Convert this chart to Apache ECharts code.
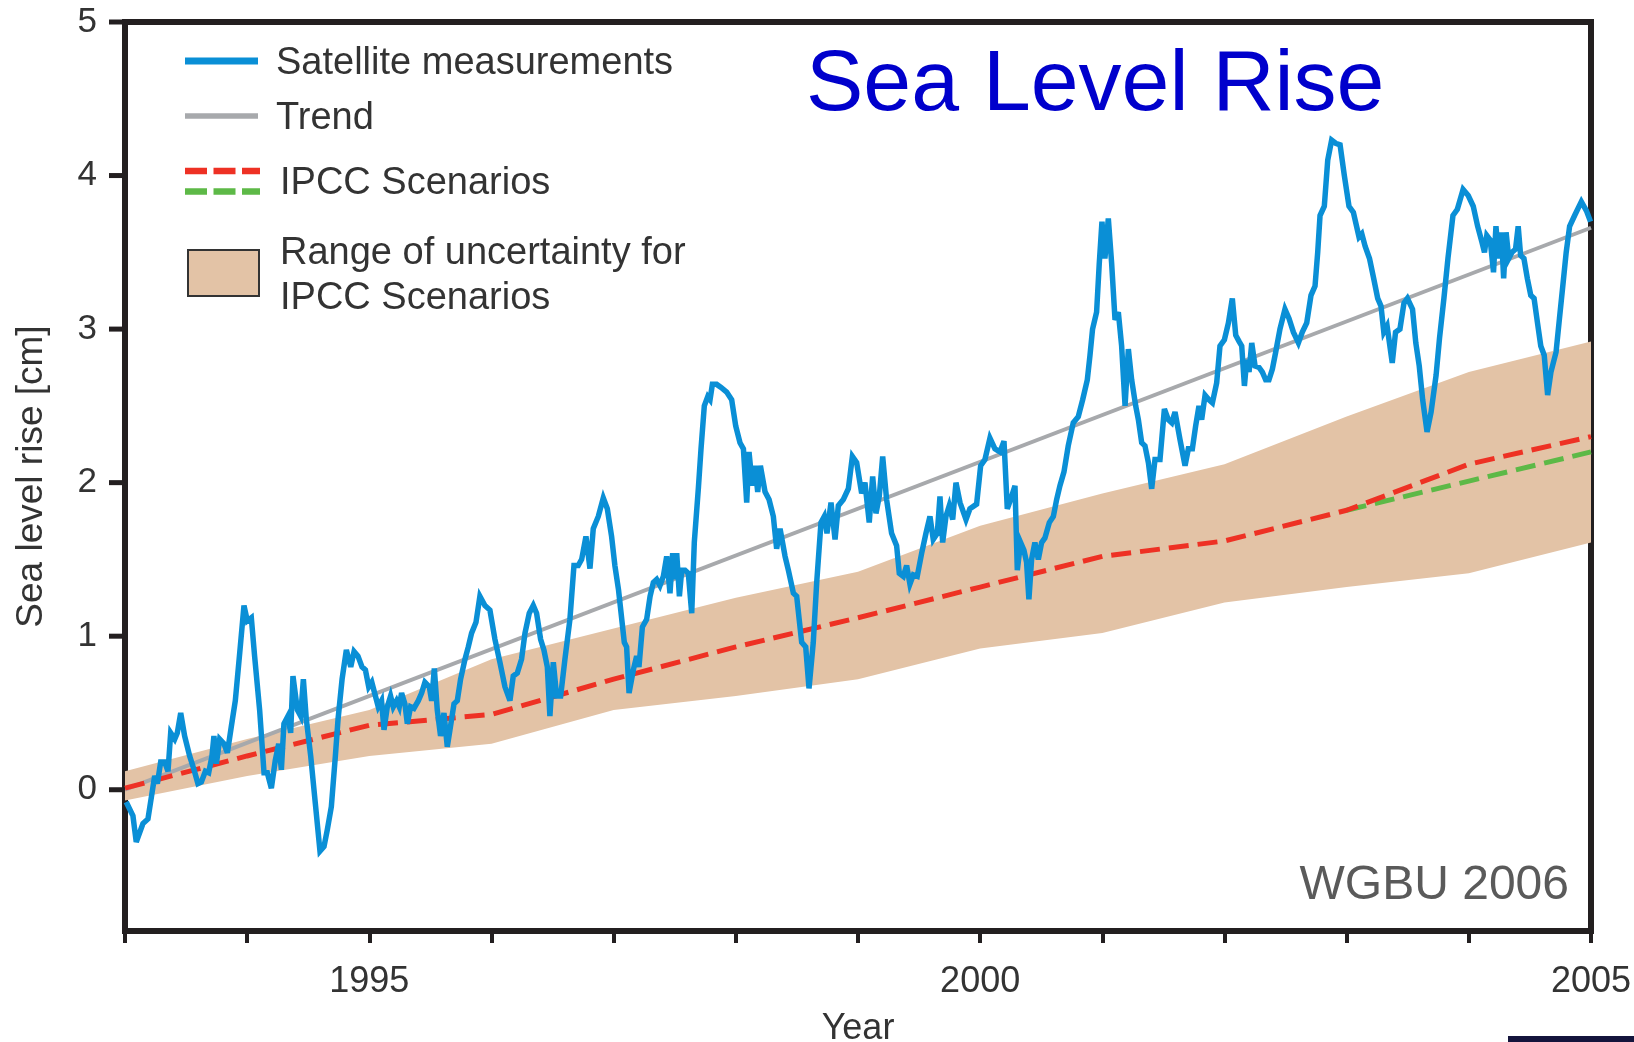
<!DOCTYPE html>
<html>
<head>
<meta charset="utf-8">
<title>Sea Level Rise</title>
<script src="https://cdn.jsdelivr.net/npm/echarts@6/dist/echarts.min.js"></script>
<style>
  html, body { margin: 0; padding: 0; background: #ffffff; }
  #chart { width: 1634px; height: 1042px; }
</style>
</head>
<body>
<div id="chart"></div>
<script>
// Satellite altimetry record (decimal year, cm)
const satYears = [
  1993.01, 1993.065, 1993.092, 1993.147, 1993.188, 1993.243, 1993.265, 1993.292, 1993.325, 1993.352,
  1993.374, 1993.407, 1993.428, 1993.456, 1993.488, 1993.529, 1993.565, 1993.597, 1993.625, 1993.658,
  1993.685, 1993.712, 1993.728, 1993.748, 1993.775, 1993.810, 1993.838, 1993.870, 1993.903, 1993.939,
  1993.974, 1994.001, 1994.034, 1994.061, 1994.102, 1994.138, 1994.165, 1994.198, 1994.230, 1994.258,
  1994.280, 1994.301, 1994.334, 1994.356, 1994.375, 1994.411, 1994.438, 1994.460, 1994.484, 1994.520,
  1994.558, 1994.596, 1994.629, 1994.656, 1994.689, 1994.722, 1994.744, 1994.777, 1994.812, 1994.848,
  1994.875, 1994.907, 1994.940, 1994.968, 1994.995,
  1995.020, 1995.073, 1995.100, 1995.120, 1995.147, 1995.174, 1995.196, 1995.223, 1995.245, 1995.264,
  1995.291, 1995.311, 1995.338, 1995.365, 1995.401, 1995.428, 1995.455, 1995.491, 1995.510, 1995.532,
  1995.556, 1995.583, 1995.611, 1995.638, 1995.660, 1995.693, 1995.720, 1995.747, 1995.783, 1995.810,
  1995.837, 1995.873, 1995.905, 1995.946, 1995.987, 1996.028, 1996.069, 1996.110, 1996.151, 1996.178,
  1996.211, 1996.246, 1996.274, 1996.309, 1996.342, 1996.369, 1996.402, 1996.429, 1996.457, 1996.478,
  1996.506, 1996.533, 1996.566, 1996.601, 1996.642, 1996.675, 1996.710, 1996.738, 1996.773, 1996.806,
  1996.833, 1996.874, 1996.915, 1996.948, 1996.983,
  1997.010, 1997.040, 1997.087, 1997.106, 1997.126, 1997.161, 1997.188, 1997.207, 1997.235, 1997.270,
  1997.298, 1997.325, 1997.352, 1997.379, 1997.407, 1997.434, 1997.461, 1997.483, 1997.502, 1997.516,
  1997.538, 1997.557, 1997.584, 1997.611, 1997.639, 1997.660, 1997.693, 1997.715, 1997.742, 1997.770,
  1997.789, 1997.808, 1997.843, 1997.879, 1997.925, 1997.966, 1997.999, 1998.034, 1998.062, 1998.089,
  1998.108, 1998.135, 1998.157, 1998.179, 1998.201, 1998.239, 1998.272, 1998.307, 1998.334, 1998.362,
  1998.403, 1998.430, 1998.471, 1998.498, 1998.539, 1998.572, 1998.599, 1998.634, 1998.662, 1998.697,
  1998.724, 1998.746, 1998.779, 1998.812, 1998.839, 1998.880, 1998.921, 1998.954, 1998.989,
  1999.030, 1999.057, 1999.092, 1999.120, 1999.147, 1999.174, 1999.202, 1999.234, 1999.275, 1999.316,
  1999.338, 1999.371, 1999.398, 1999.425, 1999.453, 1999.485, 1999.521, 1999.556, 1999.589, 1999.616,
  1999.649, 1999.671, 1999.693, 1999.720, 1999.747, 1999.775, 1999.802, 1999.835, 1999.884, 1999.916,
  1999.971, 2000.004, 2000.039, 2000.080, 2000.121, 2000.162, 2000.195, 2000.222, 2000.249, 2000.285,
  2000.304, 2000.331, 2000.358, 2000.380, 2000.399, 2000.421, 2000.448, 2000.476, 2000.503, 2000.530,
  2000.566, 2000.599, 2000.626, 2000.653, 2000.686, 2000.721, 2000.762, 2000.803, 2000.839, 2000.877,
  2000.899, 2000.920, 2000.953, 2000.975, 2000.997, 2001.021, 2001.049, 2001.076,
  2001.104, 2001.131, 2001.158, 2001.186, 2001.213, 2001.240, 2001.273, 2001.295, 2001.322, 2001.349,
  2001.377, 2001.404, 2001.431, 2001.472, 2001.508, 2001.540, 2001.568, 2001.595, 2001.636, 2001.677,
  2001.704, 2001.737, 2001.764, 2001.791, 2001.813, 2001.841, 2001.873, 2001.901, 2001.936, 2001.963,
  2001.999, 2002.032, 2002.064, 2002.092, 2002.119, 2002.141, 2002.163, 2002.182, 2002.201, 2002.223,
  2002.250, 2002.283, 2002.310, 2002.337, 2002.364, 2002.392, 2002.419, 2002.454, 2002.495, 2002.528,
  2002.564, 2002.605, 2002.637, 2002.673, 2002.708, 2002.741, 2002.763, 2002.782, 2002.817, 2002.845,
  2002.877, 2002.910, 2002.946, 2002.981, 2003.019, 2003.055, 2003.101,
  2003.124, 2003.151, 2003.187, 2003.221, 2003.254, 2003.281, 2003.304, 2003.331, 2003.373, 2003.400,
  2003.436, 2003.469, 2003.497, 2003.539, 2003.566, 2003.594, 2003.622, 2003.658, 2003.691, 2003.732,
  2003.760, 2003.796, 2003.829, 2003.870, 2003.906, 2003.953, 2003.995, 2004.036, 2004.072, 2004.106,
  2004.128, 2004.147, 2004.175, 2004.202, 2004.222, 2004.244, 2004.266, 2004.285, 2004.305, 2004.327,
  2004.354, 2004.382, 2004.404, 2004.424, 2004.451, 2004.479, 2004.507, 2004.534, 2004.562, 2004.589,
  2004.617, 2004.645, 2004.672, 2004.714, 2004.742, 2004.769, 2004.797, 2004.825, 2004.866, 2004.921,
  2004.963, 2004.996
];
const satValues = [
  -0.08, -0.17, -0.34, -0.22, -0.19, 0.09, 0.04, 0.18, 0.18, 0.12,
  0.37, 0.33, 0.37, 0.50, 0.35, 0.22, 0.13, 0.04, 0.05, 0.12,
  0.11, 0.22, 0.35, 0.17, 0.33, 0.30, 0.24, 0.41, 0.58, 0.89,
  1.20, 1.10, 1.12, 0.87, 0.52, 0.11, 0.11, 0.01, 0.19, 0.30,
  0.13, 0.43, 0.48, 0.37, 0.74, 0.52, 0.48, 0.72, 0.46, 0.22,
  -0.09, -0.40, -0.37, -0.26, -0.11, 0.22, 0.46, 0.72, 0.91, 0.80,
  0.90, 0.87, 0.80, 0.78, 0.67,
  0.70, 0.54, 0.58, 0.39, 0.54, 0.61, 0.54, 0.58, 0.54, 0.63,
  0.56, 0.43, 0.54, 0.53, 0.58, 0.63, 0.70, 0.67, 0.58, 0.79,
  0.52, 0.35, 0.50, 0.28, 0.39, 0.56, 0.58, 0.72, 0.85, 0.93,
  1.02, 1.09, 1.26, 1.20, 1.17, 0.98, 0.83, 0.67, 0.58, 0.74,
  0.76, 0.85, 1.02, 1.15, 1.20, 1.15, 0.98, 0.91, 0.80, 0.48,
  0.83, 0.61, 0.61, 0.85, 1.11, 1.46, 1.46, 1.50, 1.65, 1.44,
  1.70, 1.78, 1.90, 1.83, 1.65,
  1.46, 1.30, 0.96, 0.93, 0.63, 0.78, 0.87, 0.80, 1.06, 1.11,
  1.26, 1.35, 1.37, 1.33, 1.39, 1.52, 1.28, 1.54, 1.37, 1.54,
  1.26, 1.43, 1.43, 1.41, 1.15, 1.61, 1.96, 2.22, 2.50, 2.56,
  2.54, 2.64, 2.64, 2.62, 2.59, 2.54, 2.37, 2.26, 2.22, 1.87,
  2.20, 1.98, 2.11, 1.94, 2.11, 1.94, 1.89, 1.78, 1.57, 1.70,
  1.52, 1.43, 1.28, 1.26, 0.96, 0.93, 0.66, 0.96, 1.35, 1.74,
  1.78, 1.67, 1.87, 1.63, 1.85, 1.89, 1.96, 2.17, 2.13,
  1.93, 2.00, 1.74, 2.04, 1.80, 1.91, 2.17, 1.89, 1.67, 1.59,
  1.41, 1.39, 1.46, 1.34, 1.40, 1.39, 1.54, 1.67, 1.78, 1.63,
  1.67, 1.91, 1.61, 1.78, 1.85, 1.76, 2.00, 1.87, 1.76, 1.83,
  1.86, 2.11, 2.15, 2.29, 2.22, 2.20, 2.27, 1.83, 1.89, 1.98,
  1.43, 1.61, 1.56, 1.48, 1.24, 1.50, 1.61, 1.50, 1.61, 1.64,
  1.74, 1.78, 1.89, 1.98, 2.07, 2.24, 2.39, 2.43, 2.54, 2.67,
  2.83, 3.00, 3.11, 3.43, 3.70, 3.46, 3.72, 3.43,
  3.06, 3.11, 2.89, 2.50, 2.87, 2.67, 2.50, 2.41, 2.26, 2.24,
  2.13, 1.96, 2.15, 2.15, 2.48, 2.41, 2.39, 2.46, 2.28, 2.11,
  2.22, 2.22, 2.37, 2.50, 2.41, 2.57, 2.54, 2.52, 2.65, 2.89,
  2.93, 3.04, 3.20, 2.96, 2.92, 2.89, 2.63, 2.80, 2.72, 2.91,
  2.76, 2.75, 2.72, 2.67, 2.67, 2.74, 2.85, 3.00, 3.13, 3.07,
  2.98, 2.91, 2.98, 3.04, 3.22, 3.28, 3.50, 3.74, 3.80, 4.10,
  4.23, 4.21, 4.20, 4.00, 3.80, 3.76, 3.60,
  3.62, 3.54, 3.46, 3.33, 3.20, 3.15, 2.98, 3.02, 2.78, 2.98,
  3.00, 3.17, 3.20, 3.13, 2.91, 2.76, 2.54, 2.33, 2.46, 2.70,
  2.94, 3.20, 3.46, 3.74, 3.78, 3.91, 3.87, 3.80, 3.67, 3.57,
  3.50, 3.61, 3.58, 3.37, 3.67, 3.46, 3.63, 3.33, 3.63, 3.46,
  3.50, 3.52, 3.67, 3.48, 3.46, 3.33, 3.22, 3.20, 3.04, 2.89,
  2.83, 2.57, 2.72, 2.85, 3.07, 3.28, 3.50, 3.67, 3.74, 3.83,
  3.77, 3.70
];

// Linear trend of the satellite record
const trendYears = [1993, 2005];
const trendValues = [0.0, 3.66];

// IPCC scenario projections
const scenarioYears = [1993, 1994, 1995, 1996, 1997, 1998, 1999, 2000, 2001, 2002, 2003, 2004, 2005];
const redScenario = [0.01, 0.22, 0.42, 0.49, 0.72, 0.93, 1.12, 1.32, 1.52, 1.62, 1.82, 2.12, 2.30];
const greenYears = [2003, 2004, 2005];
const greenScenario = [1.82, 2.01, 2.20];

// Uncertainty range of the IPCC scenarios
const bandYears = [1993, 1994, 1995, 1996, 1997, 1998, 1999, 2000, 2001, 2002, 2003, 2004, 2005];
const bandLow = [-0.07, 0.09, 0.22, 0.30, 0.52, 0.61, 0.72, 0.92, 1.02, 1.22, 1.32, 1.41, 1.61];
const bandHigh = [0.12, 0.33, 0.52, 0.85, 1.05, 1.25, 1.42, 1.72, 1.93, 2.12, 2.43, 2.72, 2.92];

// Axis labels
const yearLabels = [1995, 2000, 2005];
const levelTicks = [0, 1, 2, 3, 4, 5];

const FONT = '"Liberation Sans", Arial, Helvetica, sans-serif';
const INK = '#231f20';
const TEXT = '#333333';
const BLUE = '#0a8fd6';
const GREY = '#a7a9ac';
const RED = '#ee3124';
const GREEN = '#5db947';
const SAND = '#e3c3a6';

const chart = echarts.init(document.getElementById('chart'), null, { renderer: 'canvas' });

const pairs = (xs, ys) => xs.map((x, i) => [x, ys[i]]);

const option = {
  animation: false,
  backgroundColor: '#ffffff',
  grid: {
    left: 125, right: 43, top: 22, bottom: 111,
    show: true, borderWidth: 6, borderColor: INK, backgroundColor: 'transparent',
    outerBoundsMode: 'none'
  },
  xAxis: {
    type: 'value', min: 1993, max: 2005, interval: 1,
    name: 'Year', nameLocation: 'middle', nameGap: 80,
    nameTextStyle: { fontFamily: FONT, fontSize: 36, color: TEXT },
    axisLine: { show: false, onZero: false },
    axisTick: { show: true, length: 12, lineStyle: { color: INK, width: 4 } },
    axisLabel: { customValues: yearLabels, margin: 33, fontFamily: FONT, fontSize: 36, color: TEXT,
      formatter: v => String(v) },
    splitLine: { show: false }
  },
  yAxis: {
    type: 'value', min: -0.92, max: 5,
    name: 'Sea level rise [cm]', nameLocation: 'middle', nameGap: 75,
    nameTextStyle: { fontFamily: FONT, fontSize: 37, color: TEXT },
    axisLine: { show: false, onZero: false },
    axisTick: { show: false },
    axisLabel: { customValues: levelTicks, margin: 28, fontFamily: FONT, fontSize: 35, color: TEXT },
    splitLine: { show: false }
  },
  series: [
    {
      name: 'Range of uncertainty for IPCC Scenarios',
      type: 'custom', silent: true, z: 1,
      data: [[bandYears[0], bandLow[0]]],
      renderItem: (params, api) => {
        const upper = bandYears.map((y, i) => api.coord([y, bandHigh[i]]));
        const lower = bandYears.map((y, i) => api.coord([y, bandLow[i]])).reverse();
        return { type: 'polygon', shape: { points: upper.concat(lower) }, style: { fill: SAND } };
      }
    },
    {
      name: 'Trend', type: 'line', z: 2, showSymbol: false, silent: true,
      data: pairs(trendYears, trendValues),
      lineStyle: { color: GREY, width: 4 }
    },
    {
      name: 'IPCC Scenario (green)', type: 'line', z: 3, showSymbol: false, silent: true,
      data: pairs(greenYears, greenScenario),
      lineStyle: { color: GREEN, width: 5, type: [20, 9] }
    },
    {
      name: 'IPCC Scenario (red)', type: 'line', z: 4, showSymbol: false, silent: true,
      data: pairs(scenarioYears, redScenario),
      lineStyle: { color: RED, width: 5, type: [20, 9] }
    },
    {
      name: 'Satellite measurements', type: 'line', z: 5, showSymbol: false, silent: true,
      data: pairs(satYears, satValues),
      lineStyle: { color: BLUE, width: 5.5, join: 'miter', miterLimit: 4 }
    },
    {
      // outward tick marks on the left axis at each whole centimetre
      name: 'level ticks', type: 'custom', silent: true, clip: false, z: 10,
      data: levelTicks.map(v => [1993, v]),
      renderItem: (params, api) => {
        const p = api.coord([api.value(0), api.value(1)]);
        return { type: 'line', shape: { x1: p[0] - 16, y1: p[1], x2: p[0], y2: p[1] },
          style: { stroke: INK, lineWidth: 5 } };
      }
    }
  ],
  graphic: [
    // legend
    { type: 'line', shape: { x1: 185, y1: 61, x2: 258, y2: 61 }, style: { stroke: BLUE, lineWidth: 7 } },
    { type: 'text', x: 276, y: 64, style: { text: 'Satellite measurements', font: '38px ' + FONT, fill: TEXT, textVerticalAlign: 'middle' } },
    { type: 'line', shape: { x1: 185, y1: 116, x2: 258, y2: 116 }, style: { stroke: GREY, lineWidth: 5.5 } },
    { type: 'text', x: 276, y: 119, style: { text: 'Trend', font: '38px ' + FONT, fill: TEXT, textVerticalAlign: 'middle' } },
    { type: 'line', shape: { x1: 185, y1: 171, x2: 260, y2: 171 }, style: { stroke: RED, lineWidth: 6.5, lineDash: [22, 6.5] } },
    { type: 'line', shape: { x1: 185, y1: 191.5, x2: 260, y2: 191.5 }, style: { stroke: GREEN, lineWidth: 6.5, lineDash: [22, 6.5] } },
    { type: 'text', x: 280, y: 184, style: { text: 'IPCC Scenarios', font: '38px ' + FONT, fill: TEXT, textVerticalAlign: 'middle' } },
    { type: 'rect', shape: { x: 188, y: 250, width: 71, height: 46 }, style: { fill: SAND, stroke: '#333333', lineWidth: 2 } },
    { type: 'text', x: 280, y: 254, style: { text: 'Range of uncertainty for', font: '38px ' + FONT, fill: TEXT, textVerticalAlign: 'middle' } },
    { type: 'text', x: 280, y: 299, style: { text: 'IPCC Scenarios', font: '38px ' + FONT, fill: TEXT, textVerticalAlign: 'middle' } },
    // heading and source
    { type: 'text', x: 806, y: 86, style: { text: 'Sea Level Rise', font: '86px ' + FONT, fill: '#0000cc', textVerticalAlign: 'middle' } },
    { type: 'text', x: 1569, y: 886, style: { text: 'WGBU 2006', font: '48px ' + FONT, fill: '#5a5a5a', textAlign: 'right', textVerticalAlign: 'middle' } },
    // slide footer strip
    { type: 'rect', shape: { x: 1508, y: 1036, width: 126, height: 6 }, style: { fill: '#14143c' } }
  ]
};

chart.setOption(option);
</script>
</body>
</html>
